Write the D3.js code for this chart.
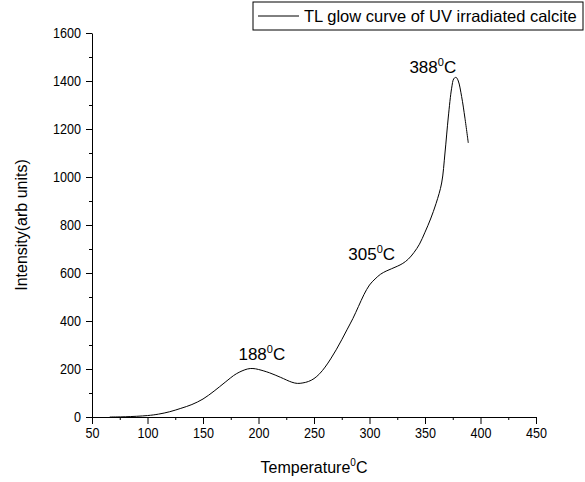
<!DOCTYPE html>
<html>
<head>
<meta charset="utf-8">
<script src="https://cdn.jsdelivr.net/npm/d3@7"></script>
<style>
  body { margin: 0; background: #fff; }
  svg { font-family: "Liberation Sans", Arial, sans-serif; }
</style>
</head>
<body>
<svg class="tl-frame"></svg>
<script>
// glow curve: temperature (C) and intensity (arb units)
const temperature = [66, 80, 100, 110, 120, 130, 140, 150, 160, 170, 180, 190, 195, 200, 210, 220, 230, 235, 240, 245, 250, 255, 260, 265, 270, 275, 280, 285, 290, 295, 300, 305, 310, 315, 320, 325, 330, 335, 340, 345, 350, 355, 360, 365, 368, 371, 374, 376, 378, 380, 383, 386, 389];
const intensity = [0, 1, 6, 12, 22, 36, 52, 75, 108, 145, 180, 200, 202, 198, 184, 165, 145, 140, 142, 148, 160, 180, 208, 242, 280, 322, 366, 410, 460, 510, 550, 575, 595, 608, 618, 628, 640, 658, 685, 720, 770, 825, 890, 975, 1100, 1250, 1370, 1410, 1415, 1400, 1335, 1245, 1142];

const xTicks = [50, 100, 150, 200, 250, 300, 350, 400, 450];
const yTicks = [0, 200, 400, 600, 800, 1000, 1200, 1400, 1600];

const peakTemps = ["188", "305", "388"];
const peakAt = [[203, 237], [302, 655], [357, 1433]]; // where each label sits, data units

const legendText = "TL glow curve of UV irradiated calcite";

const margin = {top: 33, right: 49, bottom: 65, left: 92}
, width = 585 - margin.left - margin.right
, height = 482 - margin.top - margin.bottom;

const narrow = 0.84; // the original's lettering is squeezed sideways

const svg = d3.select(".tl-frame")
  .attr("width", 585)
  .attr("height", 482);

const graph = svg.append("g")
  .attr("transform", "translate(" + margin.left + "," + margin.top + ")");

const xScale = d3.scaleLinear().domain([50, 450]).range([0, width]);
const yScale = d3.scaleLinear().domain([0, 1600]).range([height, 0]);

// minor ticks first, then the labelled ones
graph.append("g")
  .attr("transform", "translate(0," + height + ")")
  .call(d3.axisBottom(xScale).tickValues(d3.range(75, 450, 50)).tickSize(3).tickFormat(""))
  .call(g => g.select(".domain").remove());
graph.append("g")
  .call(d3.axisLeft(yScale).tickValues(d3.range(100, 1600, 200)).tickSize(3).tickFormat(""))
  .call(g => g.select(".domain").remove());

const xAxis = graph.append("g")
  .attr("transform", "translate(0," + height + ")")
  .call(d3.axisBottom(xScale).tickValues(xTicks).tickSize(7).tickSizeOuter(0).tickPadding(3).tickFormat(d3.format("d")));
const yAxis = graph.append("g")
  .call(d3.axisLeft(yScale).tickValues(yTicks).tickSize(6).tickSizeOuter(0).tickPadding(5).tickFormat(d3.format("d")));

graph.selectAll(".tick text")
  .attr("font-family", "'Liberation Sans', Arial, sans-serif")
  .attr("font-size", "15px")
  .attr("fill", "#000")
  .attr("transform", "scale(" + narrow + ",1)");
yAxis.selectAll(".tick text").attr("x", -11 / narrow);

const points = temperature.map((t, i) => [t, intensity[i]]);
const line = d3.line()
  .x(d => xScale(d[0]))
  .y(d => yScale(d[1]))
  .curve(d3.curveCatmullRom);

graph.append("path")
  .datum(points)
  .attr("fill", "none")
  .attr("stroke", "#000")
  .attr("stroke-width", 1)
  .attr("d", line);

// peak labels with a raised 0
const labels = graph.selectAll(".peak")
  .data(peakTemps)
  .enter().append("text")
  .attr("class", "peak")
  .attr("x", (d, i) => xScale(peakAt[i][0]))
  .attr("y", (d, i) => yScale(peakAt[i][1]))
  .attr("text-anchor", "middle")
  .attr("font-size", "17px");
labels.append("tspan").text(d => d);
labels.append("tspan").attr("dy", -7).attr("font-size", "11px").text("0");
labels.append("tspan").attr("dy", 7).text("C");

// axis titles
const xTitle = svg.append("text")
  .attr("x", margin.left + width / 2)
  .attr("y", 473)
  .attr("text-anchor", "middle")
  .attr("font-size", "16px");
xTitle.append("tspan").text("Temperature");
xTitle.append("tspan").attr("dy", -7).attr("font-size", "10px").text("0");
xTitle.append("tspan").attr("dy", 7).text("C");

svg.append("text")
  .attr("transform", "translate(27," + (margin.top + height / 2) + ") rotate(-90)")
  .attr("text-anchor", "middle")
  .attr("font-size", "16px")
  .text("Intensity(arb units)");

// legend
const legend = svg.append("g").attr("transform", "translate(253,2)");
legend.append("rect")
  .attr("width", 330).attr("height", 28)
  .attr("fill", "#fff").attr("stroke", "#000").attr("stroke-width", 1);
legend.append("line")
  .attr("x1", 5).attr("x2", 46).attr("y1", 14).attr("y2", 14)
  .attr("stroke", "#000");
legend.append("text")
  .attr("x", 51).attr("y", 20)
  .attr("font-size", "16.5px")
  .text(legendText);
</script>
</body>
</html>
